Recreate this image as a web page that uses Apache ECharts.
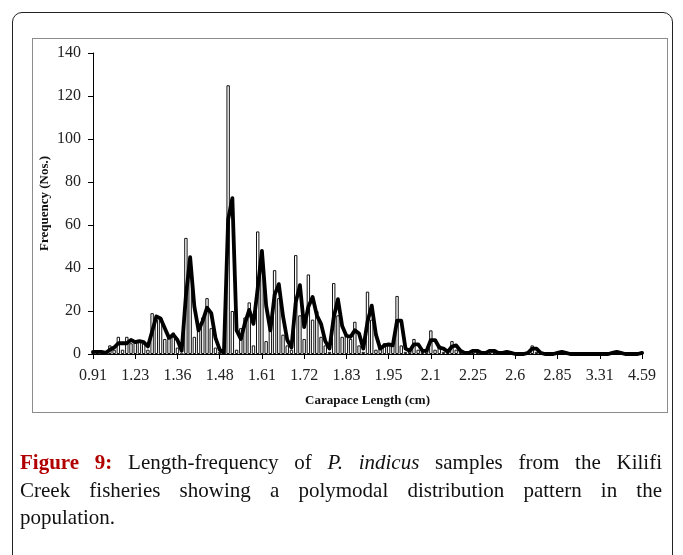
<!DOCTYPE html>
<html>
<head>
<meta charset="utf-8">
<script src="https://cdn.jsdelivr.net/npm/echarts@6/dist/echarts.min.js"></script>
<style>
  html, body { margin: 0; padding: 0; background: #fff; }
  #page { position: relative; width: 683px; height: 555px; overflow: hidden; }
  #frame {
    position: absolute; left: 12px; top: 12px; width: 661px; height: 560px;
    border: 1.5px solid #222; border-radius: 10px; box-sizing: border-box;
  }
  #plotBox {
    position: absolute; left: 32px; top: 38px; width: 636px; height: 375px;
    border: 1px solid #8c8c8c; box-sizing: border-box;
  }
  #chart { position: absolute; left: 0; top: 0; width: 683px; height: 555px; }
  .cap {
    position: absolute; left: 20px; width: 642px;
    font-family: "Liberation Serif", serif; font-size: 21px; color: #111;
    white-space: nowrap; line-height: 28px;
  }
  .just { text-align: justify; text-align-last: justify; }
  .fig { font-family: "Liberation Serif", serif; font-weight: bold; color: #b00000; font-size: 21px; }
</style>
</head>
<body>
<div id="page">
  <div id="frame"></div>
  <div id="plotBox"></div>
  <div id="chart"></div>
  <div class="cap just" style="top:448px"><span class="fig">Figure 9:</span> Length-frequency of <i>P. indicus</i> samples from the Kilifi</div>
  <div class="cap just" style="top:476px">Creek fisheries showing a polymodal distribution pattern in the</div>
  <div class="cap" style="top:503px">population.</div>
</div>
<script>
// x tick labels, one every 10 length classes
var tickLabels = ["0.91", "1.23", "1.36", "1.48", "1.61", "1.72", "1.83",
  "1.95", "2.1", "2.25", "2.6", "2.85", "3.31", "4.59"];

// frequency per length class (bars)
var freq = [
  1, 1, 1, 0, 4, 2, 8, 2, 8, 5,
  6, 6, 5, 2, 19, 16, 17, 7, 8, 10,
  3, 0, 54, 36, 8, 14, 17, 26, 12, 3,
  1, 0, 125, 20, 2, 12, 17, 24, 4, 57,
  39, 6, 16, 39, 26, 9, 4, 2, 46, 18,
  7, 37, 16, 20, 8, 4, 1, 33, 18, 8,
  9, 7, 15, 4, 1, 29, 16, 2, 3, 5,
  4, 4, 27, 4, 1, 2, 7, 2, 1, 2,
  11, 2, 4, 1, 1, 6, 2, 1, 0, 1,
  2, 1, 0, 1, 2, 1, 0, 1, 1, 0,
  0, 0, 0, 1, 4, 1, 0, 0, 0, 0,
  1, 1, 0, 0, 0, 0, 0, 0, 0, 0,
  0, 0, 0, 1, 1, 0, 0, 0, 0, 0,
  1
];

// thick trend line (moving average as drawn)
var trend = [
  1, 1, 1, 0.5, 2, 3, 5, 5, 5, 6.5,
  5.5, 6, 5.5, 3.5, 10.5, 17.5, 16.5, 12, 7.5, 9,
  6.5, 1.5, 27, 45, 22, 11, 15.5, 21.5, 19, 7.5,
  2, 0.5, 62.5, 72.5, 11, 7, 14.5, 20.5, 14, 30.5,
  48, 22.5, 11, 27.5, 32.5, 17.5, 6.5, 3, 24, 32,
  12.5, 22, 26.5, 18, 14, 6, 2.5, 17, 25.5, 13,
  8.5, 8, 11, 9.5, 2.5, 15, 22.5, 9, 2.5, 4,
  4.5, 4, 15.5, 15.5, 2.5, 1.5, 4.5, 4.5, 1.5, 1.5,
  6.5, 6.5, 3, 2.5, 1, 3.5, 4, 1.5, 0.5, 0.5,
  1.5, 1.5, 0.5, 0.5, 1.5, 1.5, 0.5, 0.5, 1, 0.5,
  0, 0, 0, 0.5, 2.5, 2.5, 0.5, 0, 0, 0,
  0.5, 1, 0.5, 0, 0, 0, 0, 0, 0, 0,
  0, 0, 0, 0.5, 1, 0.5, 0, 0, 0, 0,
  0.5
];

var categories = freq.map(function (v, i) {
  return i % 10 === 0 ? tickLabels[i / 10] : "c" + i;
});

var serif = "Liberation Serif";
var chart = echarts.init(document.getElementById("chart"));
chart.setOption({
  animation: false,
  grid: { left: 93, right: 41, top: 53, bottom: 201 },
  xAxis: {
    type: "category",
    data: categories,
    boundaryGap: false,
    name: "Carapace Length (cm)",
    nameLocation: "middle",
    nameGap: 40,
    nameMoveOverlap: false,
    nameTextStyle: { fontFamily: serif, fontWeight: "bold", fontSize: 13, color: "#111" },
    axisLine: { lineStyle: { color: "#000", width: 1 } },
    axisTick: { interval: 9, length: 5, lineStyle: { color: "#000" } },
    axisLabel: {
      interval: 9, margin: 14,
      fontFamily: serif, fontSize: 16, color: "#222",
      formatter: function (v) { return v.charAt(0) === "c" ? "" : v; }
    },
    splitLine: { show: false }
  },
  yAxis: {
    type: "value",
    min: 0, max: 140, interval: 20,
    name: "Frequency (Nos.)",
    nameLocation: "middle",
    nameGap: 42,
    nameMoveOverlap: false,
    nameTextStyle: { fontFamily: serif, fontWeight: "bold", fontSize: 13, color: "#111" },
    axisLine: { show: true, lineStyle: { color: "#000", width: 1 } },
    axisTick: { show: true, length: 5, lineStyle: { color: "#000" } },
    axisLabel: { margin: 12, fontFamily: serif, fontSize: 16, color: "#222" },
    splitLine: { show: false }
  },
  series: [
    {
      type: "bar",
      data: freq,
      barWidth: 3.4,
      itemStyle: { color: "#fff", borderColor: "#111", borderWidth: 1 },
      z: 2
    },
    {
      type: "line",
      data: trend,
      showSymbol: false,
      symbol: "none",
      lineStyle: { color: "#000", width: 3.8, cap: "round", join: "round" },
      z: 3
    }
  ]
});
</script>
</body>
</html>
